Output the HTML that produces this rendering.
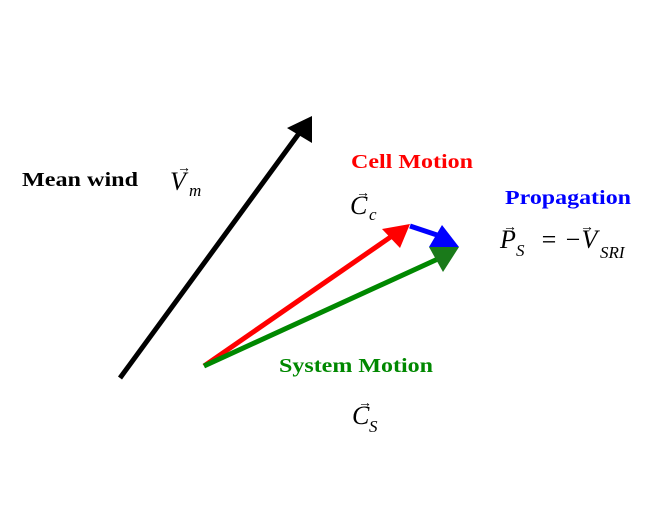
<!DOCTYPE html>
<html><head><style>
body{margin:0;background:#fff;}
svg{display:block}
.b{font-family:"Liberation Serif",serif;font-weight:bold;font-size:20px}
.m{font-family:"Liberation Serif",serif;font-style:italic;font-size:26px}
.s{font-family:"Liberation Serif",serif;font-style:italic;font-size:17px}
</style></head><body>
<svg width="650" height="524" viewBox="0 0 650 524" xmlns="http://www.w3.org/2000/svg">
<rect width="650" height="524" fill="#fff"/>
<line x1="120" y1="378" x2="300" y2="132" stroke="#000" stroke-width="5"/>
<polygon points="312,116 312,143 287,128" fill="#000"/>
<line x1="204" y1="366" x2="392" y2="236" stroke="#f00" stroke-width="5"/>
<polygon points="410,224 400,248 382,229" fill="#f00"/>
<line x1="410" y1="226" x2="440" y2="236" stroke="#00f" stroke-width="5"/>
<polygon points="429,247 459,247 442,225" fill="#00f"/>
<line x1="204" y1="366" x2="440" y2="258" stroke="#080" stroke-width="5"/>
<polygon points="429,247 459,247 443,272" fill="#1a7a1a"/>
<text class="b" x="22" y="186" textLength="116" lengthAdjust="spacingAndGlyphs">Mean wind</text>
<text class="m" x="170" y="190">V</text><text x="177" y="172" font-size="14">&#8594;</text><text class="s" x="189" y="196">m</text>
<text class="b" x="351" y="168" fill="#f00" textLength="122" lengthAdjust="spacingAndGlyphs">Cell Motion</text>
<text class="m" x="350" y="214">C</text><text x="356" y="197" font-size="14">&#8594;</text><text class="s" x="369" y="220">c</text>
<text class="b" x="505" y="204" fill="#00f" textLength="126" lengthAdjust="spacingAndGlyphs">Propagation</text>
<text class="m" x="500" y="248">P</text><text x="503" y="231" font-size="14">&#8594;</text><text class="s" x="516" y="256">S</text>
<text class="m" x="540" y="248">=</text>
<text class="m" x="564" y="248">−V</text><text x="580" y="231" font-size="14">&#8594;</text><text class="s" x="600" y="258">SRI</text>
<text class="b" x="279" y="372" fill="#080" textLength="154" lengthAdjust="spacingAndGlyphs">System Motion</text>
<text class="m" x="352" y="424">C</text><text x="358" y="407" font-size="14">&#8594;</text><text class="s" x="369" y="432">S</text>
</svg>
</body></html>
